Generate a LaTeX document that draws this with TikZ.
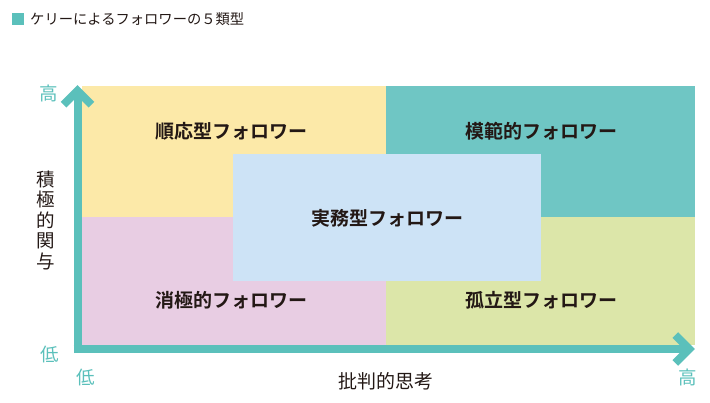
\documentclass[tikz,border=0pt]{standalone}
\usepackage{fontspec}
\setmainfont{Noto Sans CJK JP}[BoldFont={Noto Sans CJK JP Bold}]
\newfontfamily\jpbold{Noto Sans CJK JP Bold}
\definecolor{axisteal}{HTML}{5BC0BB}
\definecolor{qyellow}{HTML}{FCE9A8}
\definecolor{qteal}{HTML}{6FC6C4}
\definecolor{qpink}{HTML}{E8CDE3}
\definecolor{qgreen}{HTML}{DCE6A9}
\definecolor{qblue}{HTML}{CDE3F6}
\definecolor{txtdark}{HTML}{231815}
\tikzset{
  quad/.style={fill=#1, draw=none},
  qlabel/.style={font=\jpbold\fontsize{19}{21}\selectfont, text=txtdark, inner sep=0pt},
  axlabel/.style={font=\fontsize{18.5}{20}\selectfont, text=axisteal, inner sep=0pt},
  axisline/.style={line width=8pt, draw=axisteal, line cap=butt, miter limit=10},
}
\begin{document}
\begin{tikzpicture}[x=1pt,y=-1pt]
\useasboundingbox (0,0) rectangle (710,402);
% title
\fill[axisteal] (12,13) rectangle (24,25);
\node[anchor=west, inner sep=0pt, font=\fontsize{14.3}{16}\selectfont, text=txtdark] (title) at (30,19) {ケリーによるフォロワーの５類型};
% quadrants
\fill[quad=qyellow] (82,86) rectangle (386,217);
\fill[quad=qteal] (386,86) rectangle (695,217);
\fill[quad=qpink] (82,217) rectangle (386,345);
\fill[quad=qgreen] (386,217) rectangle (695,345);
\fill[quad=qblue] (233,154) rectangle (541,281);
% labels
\node[qlabel] (q1) at (231,131.5) {順応型フォロワー};
\node[qlabel] (q2) at (541,131.5) {模範的フォロワー};
\node[qlabel] (q3) at (387,218) {実務型フォロワー};
\node[qlabel] (q4) at (231,300.5) {消極的フォロワー};
\node[qlabel] (q5) at (541,300.5) {孤立型フォロワー};
% axes
\coordinate (origin) at (77.5,349);
\coordinate (ytip) at (77.5,90.7);
\coordinate (xtip) at (689.3,349);
\draw[axisline] (73.5,349) -- (xtip);
\draw[axisline] (77.5,353) -- (ytip);
\draw[axisline, line join=miter] (63.5,104.7) -- (ytip) -- (91.5,104.7);
\draw[axisline, line join=miter] (675.3,335) -- (xtip) -- (675.3,363);
% axis labels
\node[axlabel] (yhigh) at (49,93) {高};
\node[axlabel] (ylow) at (49.5,354) {低};
\node[axlabel] (xlow) at (86,377) {低};
\node[axlabel] (xhigh) at (688,377) {高};
\node[font=\fontsize{18.5}{20.5}\selectfont, text=txtdark, inner sep=0pt, align=center] (ytitle) at (45.5,220) {積\\極\\的\\関\\与};
\node[font=\fontsize{19}{20}\selectfont, text=txtdark, inner sep=0pt] (xtitle) at (386,381) {批判的思考};
\end{tikzpicture}
\end{document}
